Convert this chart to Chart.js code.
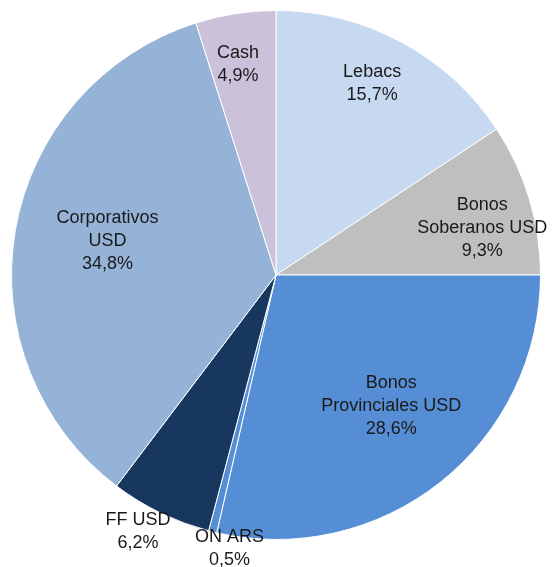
<!DOCTYPE html>
<html>
<head>
<meta charset="utf-8">
<script src="https://cdn.jsdelivr.net/npm/chart.js@4/dist/chart.umd.min.js"></script>
<style>
  html, body { margin: 0; padding: 0; background: #ffffff; }
  canvas { display: block; }
</style>
</head>
<body>
<canvas id="pie" width="553" height="567"></canvas>
<script>
// Portfolio composition (%), clockwise from 12 o'clock
const categories = [
  ["Lebacs"],
  ["Bonos", "Soberanos USD"],
  ["Bonos", "Provinciales USD"],
  ["ON ARS"],
  ["FF USD"],
  ["Corporativos", "USD"],
  ["Cash"]
];
const shares = [15.7, 9.3, 28.6, 0.5, 6.2, 34.8, 4.9];
const sliceColors = ["#c6d9f1", "#bfbfbf", "#558ed5", "#558ed5", "#17375e", "#95b3d7", "#ccc1da"];

// Label placement: radius as a fraction of the pie radius, and an angular nudge in degrees
const labelRadius = [0.81, 0.80, 0.66, 1.05, 1.10, 0.65, 0.81];
const labelNudge = [-1.6, 3.9, -2.8, -4.2, 2.4, 1.7, -1.4];

const fmt = v => v.toFixed(1).replace(".", ",") + "%";

const sliceLabels = {
  id: "sliceLabels",
  afterDatasetsDraw(chart) {
    const ctx = chart.ctx;
    const meta = chart.getDatasetMeta(0);
    ctx.save();
    ctx.font = "18px 'Liberation Sans', Arial, sans-serif";
    ctx.fillStyle = "#1a1a1a";
    ctx.textAlign = "center";
    ctx.textBaseline = "middle";
    const lineH = 23;
    meta.data.forEach((arc, i) => {
      const p = arc.getProps(["x", "y", "startAngle", "endAngle", "outerRadius"], true);
      const a = (p.startAngle + p.endAngle) / 2 + labelNudge[i] * Math.PI / 180;
      const r = p.outerRadius * labelRadius[i];
      const cx = p.x + Math.cos(a) * r;
      const cy = p.y + Math.sin(a) * r;
      const lines = categories[i].concat([fmt(shares[i])]);
      const top = cy - (lines.length - 1) * lineH / 2;
      lines.forEach((t, k) => ctx.fillText(t, cx, top + k * lineH));
    });
    ctx.restore();
  }
};

new Chart(document.getElementById("pie"), {
  type: "pie",
  data: {
    labels: categories.map(c => c.join(" ")),
    datasets: [{
      data: shares,
      backgroundColor: sliceColors,
      borderColor: "#ffffff",
      borderWidth: 1
    }]
  },
  options: {
    responsive: false,
    animation: false,
    layout: { padding: { top: 10, bottom: 27, left: 11, right: 12 } },
    plugins: {
      legend: { display: false },
      tooltip: { enabled: false }
    }
  },
  plugins: [sliceLabels]
});
</script>
</body>
</html>
